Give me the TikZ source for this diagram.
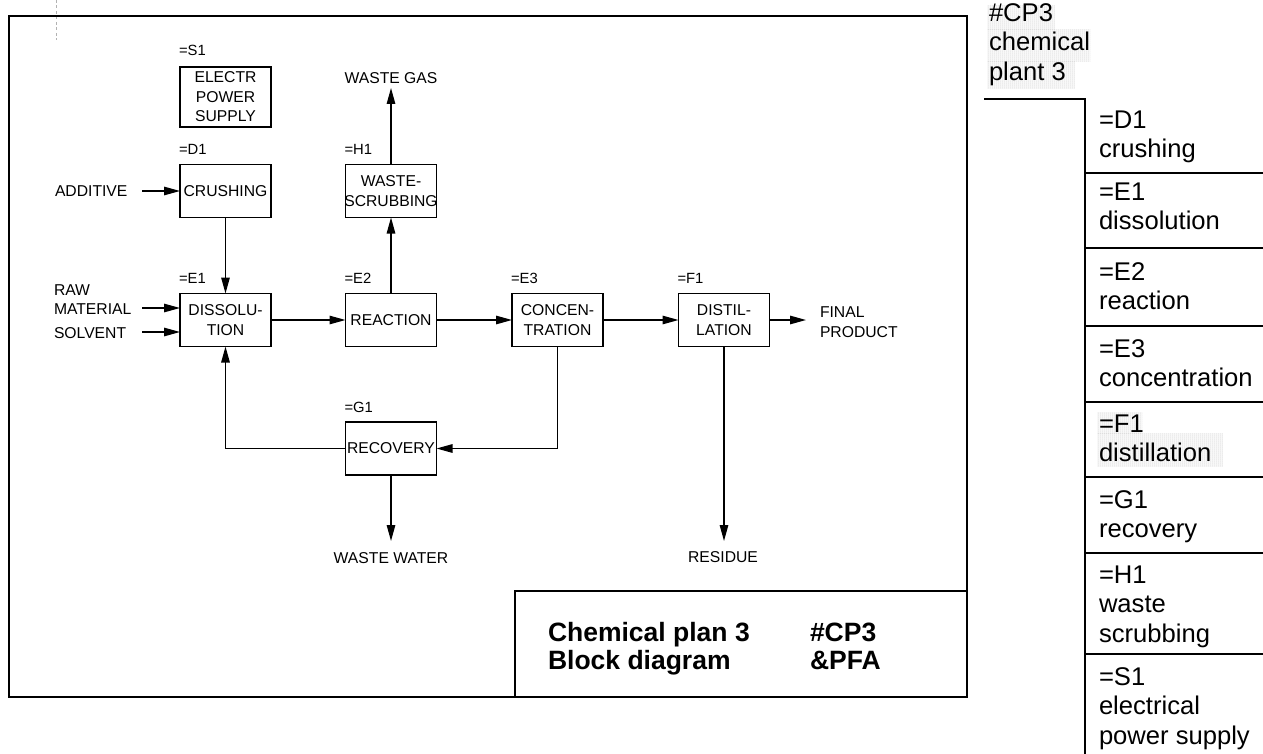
\documentclass[tikz,border=0pt]{standalone}
\usepackage{fontspec}
\setmainfont{Liberation Sans}
\usetikzlibrary{arrows.meta,calc,patterns.meta}

\begin{document}
\begin{tikzpicture}[x=1pt,y=-1pt,
  every node/.style={inner sep=0pt,outer sep=0pt},
  blk/.style={draw,line width=1.8pt,minimum width=91pt,minimum height=53pt,
    align=center,font=\fontsize{15.7}{19.5}\selectfont},
  tag/.style={anchor=base west,font=\fontsize{14.8}{17}\selectfont},
  txt/.style={font=\fontsize{15.7}{19.5}\selectfont},
  flow/.style={line width=1.3pt,-{Triangle[length=16pt,width=8.5pt]}},
  frame/.style={line width=2pt},
  ttl/.style={anchor=base west,font=\fontsize{26.5}{28}\selectfont\bfseries},
  tree/.style={line width=1.8pt},
  cell/.style={anchor=north west,align=left,font=\fontsize{25.6}{29.5}\selectfont},
  hilite/.style={pattern={Dots[distance=2pt,radius=0.5pt]},pattern color=gray!65}
]
\useasboundingbox (0,0) rectangle (1263,754);

% faint construction mark
\draw[gray!60,line width=0.6pt,dash pattern=on 3pt off 2.5pt] (56,0) -- (56,40);

% drawing frame and title block
\draw[frame] (9,16.5) rectangle (967,697);
\draw[frame] (515,697) |- (967,591);
\node[ttl] (t1) at (548,641) {Chemical plan 3};
\node[ttl] (t2) at (548,669) {Block diagram};
\node[ttl] (t3) at (810,641) {\#CP3};
\node[ttl] (t4) at (810,669) {\&PFA};

% process blocks
\node[blk,minimum height=60pt] (S1) at (225.5,97) {ELECTR\\POWER\\SUPPLY};
\node[blk] (D1) at (225.5,191) {CRUSHING};
\node[blk] (H1) at (391,191) {WASTE-\\\makebox[0pt]{SCRUBBING}};
\node[blk] (E1) at (225.5,320) {DISSOLU-\\TION};
\node[blk] (E2) at (391,320) {REACTION};
\node[blk] (E3) at (557.5,320) {CONCEN-\\TRATION};
\node[blk] (F1) at (724,320) {DISTIL-\\LATION};
\node[blk] (G1) at (391,448.5) {RECOVERY};

% reference designations
\node[tag] (S1t) at ($(S1.north west)+(-1,-11)$) {=S1};
\node[tag] (D1t) at ($(D1.north west)+(-1,-10)$) {=D1};
\node[tag] (H1t) at ($(H1.north west)+(-1,-10)$) {=H1};
\node[tag] (E1t) at ($(E1.north west)+(-1,-10)$) {=E1};
\node[tag] (E2t) at ($(E2.north west)+(-1,-10)$) {=E2};
\node[tag] (E3t) at ($(E3.north west)+(-1,-10)$) {=E3};
\node[tag] (F1t) at ($(F1.north west)+(-1,-10)$) {=F1};
\node[tag] (G1t) at ($(G1.north west)+(-1,-10)$) {=G1};

% inputs and outputs
\node[txt,anchor=west] (add) at (55,191) {ADDITIVE};
\node[txt,anchor=west,align=left] (raw) at (54,299.5) {RAW\\MATERIAL};
\node[txt,anchor=west] (sol) at (54,333) {SOLVENT};
\node[txt,anchor=west,align=left] (prod) at (820,322) {FINAL\\PRODUCT};
\node[txt] (gas) at (391,78) {WASTE GAS};
\node[txt] (ww) at (391,558) {WASTE WATER};
\node[txt] (res) at (723,557) {RESIDUE};

\coordinate (addS) at (142,191);
\coordinate (rawS) at (142,308);
\coordinate (solS) at (142,332);
\coordinate (prodE) at (806,320);
\coordinate (gasE) at (391,88);
\coordinate (wwE) at (391,541);
\coordinate (resE) at (724,541);

% material flows
\draw[flow] (addS) -- (D1.west);
\draw[flow] (rawS) -- (rawS -| E1.west);
\draw[flow] (solS) -- (solS -| E1.west);
\draw[flow] (D1.south) -- (E1.north);
\draw[flow] (E1.east) -- (E2.west);
\draw[flow] (E2.east) -- (E3.west);
\draw[flow] (E3.east) -- (F1.west);
\draw[flow] (F1.east) -- (prodE);
\draw[flow] (E2.north) -- (H1.south);
\draw[flow] (H1.north) -- (gasE);
\draw[flow] (E3.south) |- (G1.east);
\draw[flow] (G1.west) -| (E1.south);
\draw[flow] (G1.south) -- (wwE);
\draw[flow] (F1.south) -- (resE);

% structure tree
\fill[hilite] (987,5) rectangle (1055,30);
\fill[hilite] (987,30) rectangle (1090,62);
\fill[hilite] (987,62) rectangle (1075,89);
\fill[hilite] (1097,412) rectangle (1142,433);
\fill[hilite] (1097,433) rectangle (1223,466);

\draw[tree] (984,99) -- (1085,99) -- (1085,754);
\foreach \yy in {173,248,326,402,477,553,654}
  \draw[tree] (1085,\yy) -- (1263,\yy);

\node[cell] (cp3) at (989,3.5) {\#CP3\\chemical\\plant 3};
\node[cell] (tD1) at (1099,110.5) {=D1\\crushing};
\node[cell] (tE1) at (1099,182.5) {=E1\\dissolution};
\node[cell] (tE2) at (1099,262.5) {=E2\\reaction};
\node[cell] (tE3) at (1099,339.5) {=E3\\concentration};
\node[cell] (tF1) at (1099,414.5) {=F1\\distillation};
\node[cell] (tG1) at (1099,490.5) {=G1\\recovery};
\node[cell] (tH1) at (1099,565.5) {=H1\\waste\\scrubbing};
\node[cell] (tS1) at (1099,667.5) {=S1\\electrical\\power supply};
\end{tikzpicture}
\end{document}
